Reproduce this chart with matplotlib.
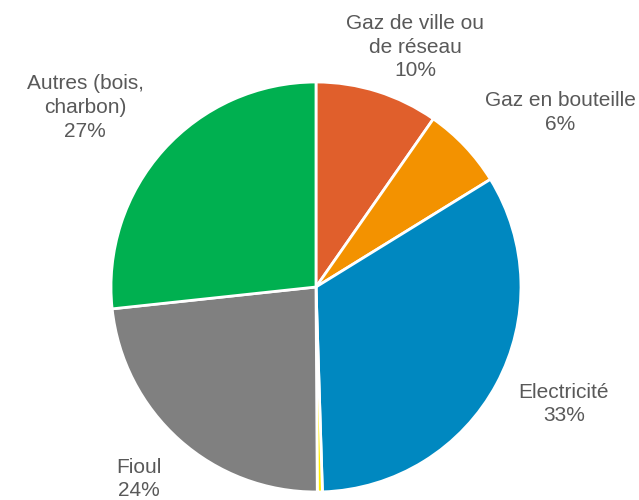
import matplotlib.pyplot as plt
import numpy as np

plt.rcParams['font.family'] = ['Liberation Sans', 'DejaVu Sans']

# Data (clockwise from 12 o'clock)
categories = ['Gaz de ville ou\nde réseau', 'Gaz en bouteille', 'Electricité', '', 'Fioul', 'Autres (bois,\ncharbon)']
values = [9.7, 6.5, 33.3, 0.4, 23.4, 26.7]
pct_labels = ['10%', '6%', '33%', '', '24%', '27%']
colors = ['#E05F2C', '#F39200', '#0088C0', '#FFED00', '#808080', '#00B050']
label_dist = [1.266, 1.465, 1.337, 0, 1.274, 1.426]
label_shift = [5, 7.8, -3, 0, 0.9, -4.1]  # degrees, clockwise

fig = plt.figure(figsize=(6.39, 5), dpi=100)
ax = fig.add_axes([0.1737, 0.016, 0.6416, 0.82])

wedges, _ = ax.pie(values, colors=colors, startangle=90, counterclock=False,
                   wedgeprops=dict(edgecolor='white', linewidth=2))
ax.set_xlim(-1, 1)
ax.set_ylim(-1, 1)
ax.set_aspect('equal')

for w, cat, pct, d, s in zip(wedges, categories, pct_labels, label_dist, label_shift):
    if not pct:
        continue
    ang = np.deg2rad((w.theta1 + w.theta2) / 2 - s)
    x, y = d * np.cos(ang), d * np.sin(ang)
    ax.text(x, y, cat + '\n' + pct, ha='center', va='center', fontsize=15,
            color='#595959', linespacing=1.32, clip_on=False)

fig.savefig('out.png', dpi=100)
